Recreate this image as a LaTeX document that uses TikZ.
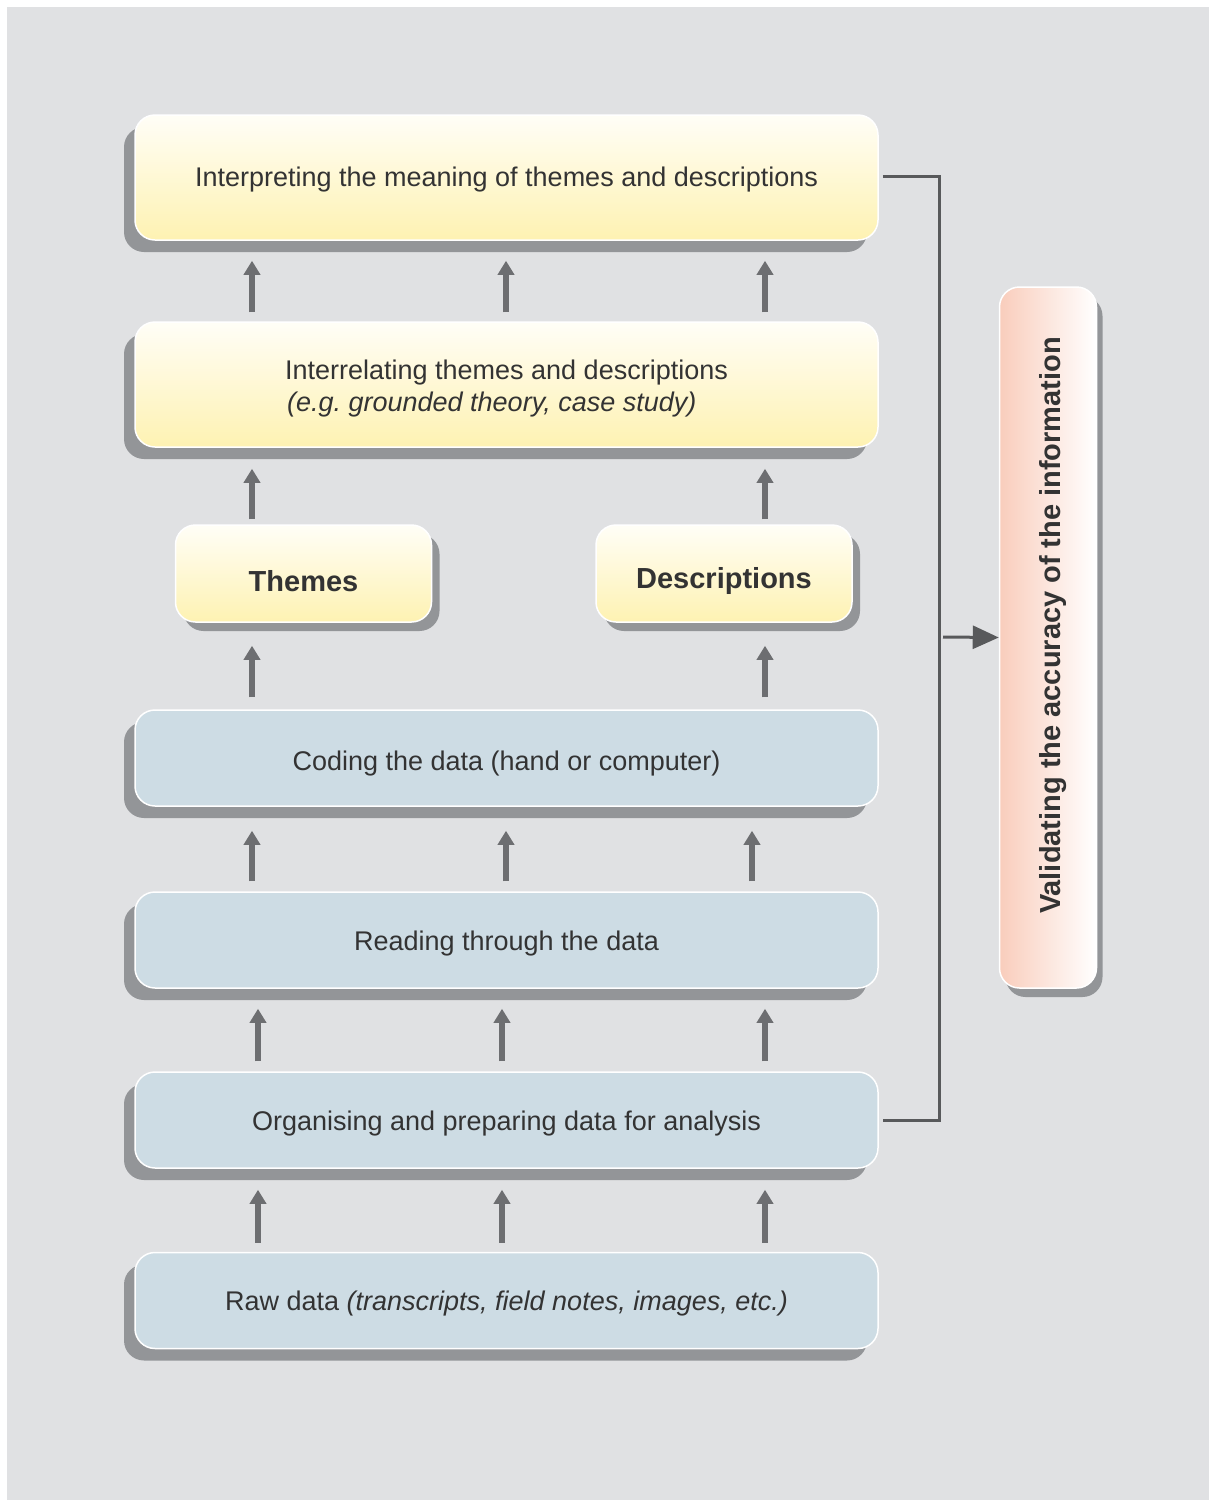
\documentclass[tikz,border=0pt]{standalone}
\usepackage{fontspec}
\setmainfont{Liberation Sans}
\usetikzlibrary{shadows,arrows.meta,calc}
\definecolor{bgc}{HTML}{E0E1E3}
\definecolor{shadowc}{HTML}{939598}
\definecolor{bluec}{HTML}{CDDCE4}
\definecolor{ytop}{HTML}{FFFEF7}
\definecolor{ybot}{HTML}{FEF2B2}
\definecolor{pinkc}{HTML}{F9CDBC}
\definecolor{arrowc}{HTML}{6D6E71}
\definecolor{connc}{HTML}{58595B}
\definecolor{txtc}{HTML}{333333}
\begin{document}
\begin{tikzpicture}[x=1pt,y=-1pt,
  box/.style={draw=white, line width=1.5pt, rounded corners=20pt, inner sep=0pt,
    text=txtc, align=center, font=\fontsize{27}{32}\selectfont},
  widebox/.style={box, minimum width=743pt,
    general shadow={shadow xshift=-11pt, shadow yshift=-12pt, fill=shadowc}},
  bluebox/.style={widebox, fill=bluec, minimum height=96pt, text height=22pt, text depth=2pt},
  yellowbox/.style={widebox, top color=ytop, bottom color=ybot, minimum height=125pt},
  smallbox/.style={box, top color=ytop, bottom color=ybot, minimum width=256pt,
    minimum height=97pt, font=\fontsize{29}{34}\selectfont\bfseries, text depth=0pt,
    general shadow={shadow xshift=8pt, shadow yshift=-9pt, fill=shadowc}},
  vbox/.style={box, rotate=90, left color=pinkc, right color=white,
    minimum width=701pt, minimum height=97pt, font=\fontsize{29}{34}\selectfont\bfseries,
    text height=25pt, text depth=0pt,
    general shadow={shadow xshift=6pt, shadow yshift=-9pt, fill=shadowc}},
  uparrow/.style={draw=arrowc, line width=6pt, -{Triangle[width=16pt,length=14pt]}},
  conn/.style={draw=connc, line width=3pt},
]
\useasboundingbox (0,0) rectangle (1209,1500);
\fill[white] (0,0) rectangle (1209,1500);
\fill[bgc] (7,7) rectangle (1209,1500);

\node[yellowbox, text height=20pt, text depth=2pt] (interp) at (506.5,177.5) {Interpreting the meaning of themes and descriptions};
\node[yellowbox, align=left] (interrel) at (506.5,384.5) {\rule{0pt}{28pt}Interrelating themes and descriptions\\\hspace*{2pt}\textit{(e.g.\ grounded theory, case study)}};
\node[smallbox, text height=35pt] (themes) at (303.5,573.5) {Themes};
\node[smallbox, text height=29pt] (descr) at (724,573.5) {Descriptions};
\node[bluebox, text height=24pt, text depth=0pt] (coding) at (506.5,758) {Coding the data (hand or computer)};
\node[bluebox] (reading) at (506.5,940) {Reading through the data};
\node[bluebox] (org) at (506.5,1120) {Organising and preparing data for analysis};
\node[bluebox, text height=21pt] (raw) at (506.5,1300.5) {Raw data \textit{(transcripts, field notes, images, etc.)}};
\node[vbox] (valid) at (1048,637.5) {\hspace*{24pt}Validating the accuracy of the information};

% arrow columns
\coordinate (xa) at (252,0);
\coordinate (xb) at (506,0);
\coordinate (xc) at (765,0);
\coordinate (xd) at (752,0);
\coordinate (xe) at (258,0);
\coordinate (xf) at (502,0);

\foreach \c in {xa,xb,xc}
  \draw[uparrow, shorten <=9pt, shorten >=20pt] (interrel.north -| \c) -- (interp.south -| \c);
\draw[uparrow, shorten <=5pt, shorten >=21pt] (themes.north -| xa) -- (interrel.south -| xa);
\draw[uparrow, shorten <=5pt, shorten >=21pt] (descr.north -| xc) -- (interrel.south -| xc);
\draw[uparrow, shorten <=12pt, shorten >=23pt] (coding.north -| xa) -- (themes.south -| xa);
\draw[uparrow, shorten <=12pt, shorten >=23pt] (coding.north -| xc) -- (descr.south -| xc);
\foreach \c in {xa,xb,xd}
  \draw[uparrow, shorten <=10pt, shorten >=24pt] (reading.north -| \c) -- (coding.south -| \c);
\foreach \c in {xe,xf,xc}
  \draw[uparrow, shorten <=10pt, shorten >=20pt] (org.north -| \c) -- (reading.south -| \c);
\foreach \c in {xe,xf,xc}
  \draw[uparrow, shorten <=9pt, shorten >=21pt] (raw.north -| \c) -- (org.south -| \c);

% validation connector
\coordinate (bus) at (939,637);
\draw[conn] ([xshift=4pt,yshift=1.5pt]interp.east) -| (bus) |- ([xshift=4pt]org.east);
\draw[conn, -{Triangle[width=23pt,length=26pt]}] ([xshift=4pt]bus) -- (valid.north);
\end{tikzpicture}
\end{document}
